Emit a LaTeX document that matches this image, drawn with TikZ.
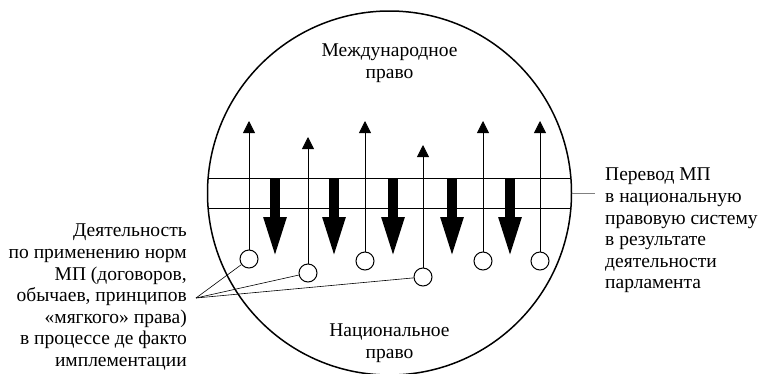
\documentclass[tikz,border=0pt]{standalone}
\usepackage{fontspec}
\setmainfont{Liberation Serif}
\usetikzlibrary{arrows.meta}

\begin{document}
\begin{tikzpicture}[x=1pt, y=-1pt,
  txt/.style={font=\fontsize{19.5}{21.6}\selectfont, inner sep=0pt},
  dot/.style={draw, circle, minimum size=18pt, inner sep=0pt, line width=1pt, fill=white},
  uparrow/.style={line width=0.8pt, -{Triangle[length=12pt, width=12pt]}},
  downarrow/.style={line width=10pt, -{Triangle[length=43pt, width=20pt]}},
  lead/.style={line width=0.6pt}
]
\useasboundingbox (0,0) rectangle (758,373);
\coordinate (centre) at (389.5,193);
\coordinate (rim) at (571.5,193);
\coordinate (lead) at (196,298);

% sphere of international and national law
\draw[line width=1.5pt] (centre) circle (182pt);
\begin{scope}
  \clip (centre) circle (182pt);
  \draw[line width=0.8pt] (200,178) -- (580,178);
  \draw[line width=0.8pt] (200,208) -- (580,208);
\end{scope}

% thick arrows: transfer by parliament
\foreach \x in {275,334,393,452,510}
  \draw[downarrow] (\x,178) -- (\x,260);

% thin arrows with circles: de facto implementation
\foreach \i/\x/\yc/\yt in {1/249/259/121, 2/308/273/137, 3/365/261/121,
                           4/423/277/145, 5/483/261/121, 6/540/261/121} {
  \node[dot] (c\i) at (\x,\yc) {};
  \draw[uparrow] (c\i) -- (\x,\yt);
}

\node[txt, align=center, anchor=north] (intl) at (389.5,44) {Международное\\право};
\node[txt, align=center, anchor=north] (natl) at (389.5,324) {Национальное\\право};

\node[txt, align=right, anchor=north east] (apply) at (187,224)
  {Деятельность\\по применению норм\\МП (договоров,\\обычаев, принципов\\«мягкого» права)\\в процессе де факто\\имплементации};
\node[txt, align=left, anchor=north west] (transl) at (605,168)
  {Перевод МП\\в национальную\\правовую систему\\в результате\\деятельности\\парламента};

\draw[lead] (lead) -- (c1);
\draw[lead] (lead) -- (c2);
\draw[lead] (lead) -- (c4);
\draw[gray, line width=0.8pt] (rim) -- ([xshift=-10pt]transl.west |- rim);
\end{tikzpicture}
\end{document}
